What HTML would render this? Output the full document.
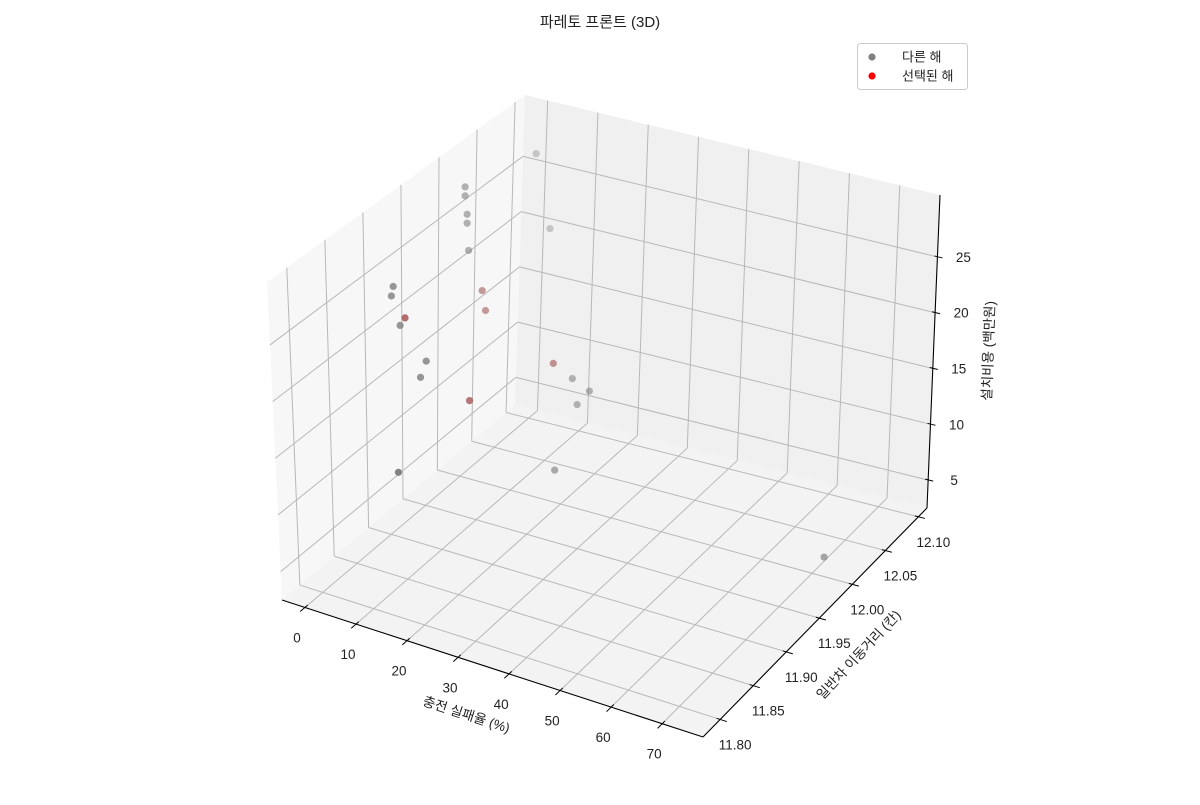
<!DOCTYPE html>
<html><head><meta charset="utf-8"><style>
body{margin:0;background:#fff;}
svg text{font-family:"Liberation Sans","Noto Sans CJK KR",sans-serif;fill:#222;}
</style></head><body>
<svg id="chart" width="1200" height="800" viewBox="0 0 1200 800" xmlns="http://www.w3.org/2000/svg">
<rect width="1200" height="800" fill="#fff"/>
<text x="600" y="27" text-anchor="middle" font-size="15">파레토 프론트 (3D)</text>
<g id="panes"></g><g id="grid"></g><g id="axes"></g><g id="points"></g>
<text transform="translate(465,719) rotate(18)" text-anchor="middle" font-size="13.5">충전 실패율 (%)</text>
<text transform="translate(862,658) rotate(-47)" text-anchor="middle" font-size="13.5">일반차 이동거리 (칸)</text>
<text transform="translate(993,351) rotate(-88)" text-anchor="middle" font-size="13.5">설치비용 (백만원)</text>
<g>
<rect x="857.5" y="43.5" width="110" height="46" rx="3" fill="#fff" stroke="#ccc"/>
<circle cx="872" cy="57" r="3.6" fill="#808080"/>
<text x="902" y="61.5" font-size="13">다른 해</text>
<circle cx="872" cy="76" r="3.6" fill="#ff0000"/>
<text x="902" y="80.5" font-size="13">선택된 해</text>
</g>
</svg>
<script>
const xVals=[3.0,4.1,4.1,4.5,4.5,6.1,4.8,4.8,4.4,6.0,2.6,3.3,7.0,11.0,9.8,16.8,20.6,24.0,21.6,14.5,21.9,14.8,70.9];
const yVals=[12.079,11.977,11.977,11.977,11.977,12.079,11.977,11.876,11.876,11.876,12.011,12.011,11.876,11.876,11.876,12.011,12.011,12.011,12.011,11.910,11.977,11.808,12.011];
const zVals=[27.8,30.1,29.3,27.7,26.9,21.4,24.5,26.4,25.5,23.1,18.9,17.2,23.9,20.6,19.0,14.1,13.2,12.5,11.0,15.8,7.0,14.8,3.4];
const selected=[0,0,0,0,0,0,0,0,0,0,1,1,1,0,0,1,0,0,0,1,0,0,0];
const xTicks=[0,10,20,30,40,50,60,70];
const yTicks=[11.80,11.85,11.90,11.95,12.00,12.05,12.10];
const zTicks=[5,10,15,20,25];
const xmin=-4.5,xmax=78,ymin=11.774,ymax=12.113,zmin=2.5,zmax=30.55;
const C={L:[282,600],F:[703,737],B:[515,405],R:[927,508]};
const O={L:[-15,-318],F:[-12,-321],B:[10,-310],R:[13,-313]};
function bil(S,a,b,i){return S.L[i]*(1-a)*(1-b)+S.F[i]*a*(1-b)+S.B[i]*(1-a)*b+S.R[i]*a*b;}
function P(x,y,z){const a=(x-xmin)/(xmax-xmin),b=(y-ymin)/(ymax-ymin),t=(z-zmin)/(zmax-zmin);
return [bil(C,a,b,0)+t*bil(O,a,b,0),bil(C,a,b,1)+t*bil(O,a,b,1)];}
const NS='http://www.w3.org/2000/svg';
function mk(tag,parent,attrs){const e=document.createElementNS(NS,tag);for(const k in attrs)e.setAttribute(k,attrs[k]);parent.appendChild(e);return e;}
function poly(pts){return pts.map(p=>p[0].toFixed(1)+','+p[1].toFixed(1)).join(' ');}
const panes=document.getElementById('panes'),grid=document.getElementById('grid'),axes=document.getElementById('axes'),pts=document.getElementById('points');
let e;
e=mk('polygon',panes,{points:poly([P(xmin,ymin,zmin),P(xmax,ymin,zmin),P(xmax,ymax,zmin),P(xmin,ymax,zmin)]),fill:'#f3f3f3'});


e=mk('polygon',panes,{points:poly([P(xmin,ymin,zmin),P(xmin,ymax,zmin),P(xmin,ymax,zmax),P(xmin,ymin,zmax)]),fill:'#f7f7f7'});


e=mk('polygon',panes,{points:poly([P(xmin,ymax,zmin),P(xmax,ymax,zmin),P(xmax,ymax,zmax),P(xmin,ymax,zmax)]),fill:'#f0f0f0'});


function line(g,p,q,st,w){return mk('line',g,{x1:p[0],y1:p[1],x2:q[0],y2:q[1],stroke:st,'stroke-width':w});}
const gc='#b8b8b8';
xTicks.forEach(x=>{
 e=line(grid,P(x,ymin,zmin),P(x,ymax,zmin),gc,1);
 
 
 e=line(grid,P(x,ymax,zmin),P(x,ymax,zmax),gc,1);
 
 
 e=line(axes,P(x,ymin-0.007,zmin),P(x,ymin+0.004,zmin),'#000',1);
 
 
 const p=P(x,ymin,zmin);
 e=mk('text',axes,{x:p[0]-8,y:p[1]+35,'text-anchor':'middle','font-size':'13.5'});e.textContent=String(x);
 
 
});
yTicks.forEach(y=>{
 e=line(grid,P(xmin,y,zmin),P(xmax,y,zmin),gc,1);
 
 
 e=line(grid,P(xmin,y,zmin),P(xmin,y,zmax),gc,1);
 
 
 e=line(axes,P(xmax-0.7,y,zmin),P(xmax+1.3,y,zmin),'#000',1);
 
 
 const p=P(xmax,y,zmin);
 e=mk('text',axes,{x:p[0]+15,y:p[1]+30,'text-anchor':'middle','font-size':'13.5'});e.textContent=y.toFixed(2);
 
 
});
zTicks.forEach(z=>{
 e=line(grid,P(xmin,ymin,z),P(xmin,ymax,z),gc,1);
 
 
 e=line(grid,P(xmin,ymax,z),P(xmax,ymax,z),gc,1);
 
 
 const p=P(xmax,ymax,z);
 e=line(axes,[p[0]-3,p[1]-1],[p[0]+5,p[1]+1],'#000',1);
 
 
 e=mk('text',axes,{x:p[0]+26,y:p[1]+5,'text-anchor':'middle','font-size':'13.5'});e.textContent=String(z);
 
 
});
e=line(axes,P(xmin,ymin,zmin),P(xmax,ymin,zmin),'#000',1.1);


e=line(axes,P(xmax,ymin,zmin),P(xmax,ymax,zmin),'#000',1.1);


e=line(axes,P(xmax,ymax,zmin),P(xmax,ymax,zmax),'#000',1.1);


xVals.forEach((x,i)=>{
 const a=(x-xmin)/(xmax-xmin),b=(yVals[i]-ymin)/(ymax-ymin);
 const al=Math.max(0.3,Math.min(1,1-0.7*b+0.2*a));
 const p=P(x,yVals[i],zVals[i]);
 e=mk('circle',pts,{cx:p[0],cy:p[1],r:3.6,fill:'#808080','fill-opacity':al});
 
 
 if(selected[i]){
  e=mk('circle',pts,{cx:p[0],cy:p[1],r:3.6,fill:'#ff0000','fill-opacity':al*0.32});
  
  
 }
});
</script>
</body></html>
